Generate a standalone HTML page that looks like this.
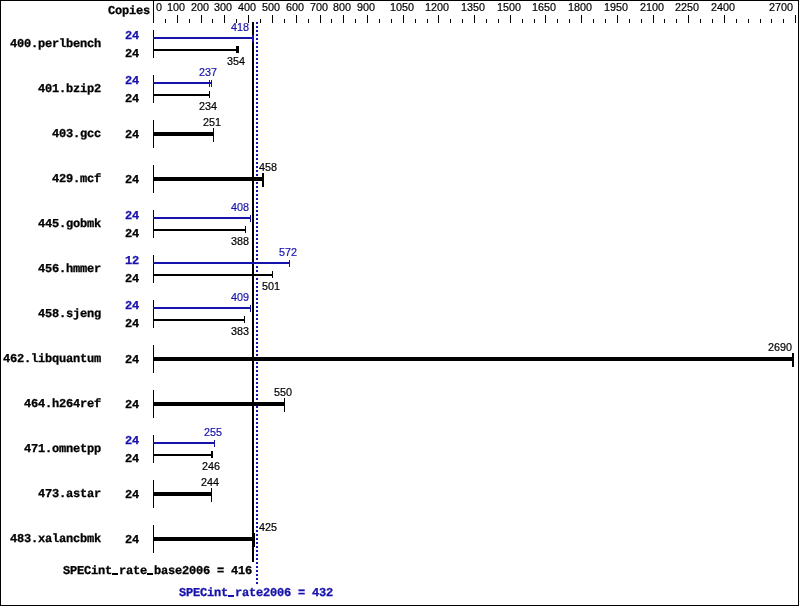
<!DOCTYPE html>
<html><head><meta charset="utf-8"><title>SPECint_rate2006</title>
<style>
html,body{margin:0;padding:0;background:#fff}
#g{position:relative;width:799px;height:606px;overflow:hidden;background:#fff}
#g i{position:absolute;display:block}
#g span{position:absolute;white-space:pre;line-height:13px;height:13px;will-change:transform}
.s{font-family:"Liberation Sans",sans-serif;font-size:10.8px;color:#000;-webkit-text-stroke:0.2px}
#g b{color:transparent;font-weight:inherit}
.m{font-family:"Liberation Mono",monospace;font-weight:bold;font-size:12px;color:#000;letter-spacing:-0.2px;margin-top:-1px;text-rendering:geometricPrecision;-webkit-text-stroke:0.3px}
</style></head><body><div id="g">
<i style="left:0px;top:0px;width:799px;height:1px;background:#000"></i>
<i style="left:0px;top:605px;width:799px;height:1px;background:#000"></i>
<i style="left:0px;top:0px;width:1px;height:606px;background:#000"></i>
<i style="left:798px;top:0px;width:1px;height:606px;background:#000"></i>
<i style="left:153px;top:0px;width:1px;height:23px;background:#000"></i>
<i style="left:165px;top:19px;width:1px;height:4px;background:#000"></i>
<i style="left:177px;top:15px;width:1px;height:8px;background:#000"></i>
<i style="left:189px;top:19px;width:1px;height:4px;background:#000"></i>
<i style="left:201px;top:15px;width:1px;height:8px;background:#000"></i>
<i style="left:212px;top:19px;width:1px;height:4px;background:#000"></i>
<i style="left:224px;top:15px;width:1px;height:8px;background:#000"></i>
<i style="left:236px;top:19px;width:1px;height:4px;background:#000"></i>
<i style="left:248px;top:15px;width:1px;height:8px;background:#000"></i>
<i style="left:260px;top:19px;width:1px;height:4px;background:#000"></i>
<i style="left:272px;top:15px;width:1px;height:8px;background:#000"></i>
<i style="left:284px;top:19px;width:1px;height:4px;background:#000"></i>
<i style="left:296px;top:15px;width:1px;height:8px;background:#000"></i>
<i style="left:308px;top:19px;width:1px;height:4px;background:#000"></i>
<i style="left:320px;top:15px;width:1px;height:8px;background:#000"></i>
<i style="left:331px;top:19px;width:1px;height:4px;background:#000"></i>
<i style="left:343px;top:15px;width:1px;height:8px;background:#000"></i>
<i style="left:355px;top:19px;width:1px;height:4px;background:#000"></i>
<i style="left:367px;top:15px;width:1px;height:8px;background:#000"></i>
<i style="left:379px;top:19px;width:1px;height:4px;background:#000"></i>
<i style="left:391px;top:19px;width:1px;height:4px;background:#000"></i>
<i style="left:403px;top:15px;width:1px;height:8px;background:#000"></i>
<i style="left:415px;top:19px;width:1px;height:4px;background:#000"></i>
<i style="left:427px;top:19px;width:1px;height:4px;background:#000"></i>
<i style="left:438px;top:15px;width:1px;height:8px;background:#000"></i>
<i style="left:450px;top:19px;width:1px;height:4px;background:#000"></i>
<i style="left:462px;top:19px;width:1px;height:4px;background:#000"></i>
<i style="left:474px;top:15px;width:1px;height:8px;background:#000"></i>
<i style="left:486px;top:19px;width:1px;height:4px;background:#000"></i>
<i style="left:498px;top:19px;width:1px;height:4px;background:#000"></i>
<i style="left:510px;top:15px;width:1px;height:8px;background:#000"></i>
<i style="left:522px;top:19px;width:1px;height:4px;background:#000"></i>
<i style="left:534px;top:19px;width:1px;height:4px;background:#000"></i>
<i style="left:545px;top:15px;width:1px;height:8px;background:#000"></i>
<i style="left:557px;top:19px;width:1px;height:4px;background:#000"></i>
<i style="left:569px;top:19px;width:1px;height:4px;background:#000"></i>
<i style="left:581px;top:15px;width:1px;height:8px;background:#000"></i>
<i style="left:593px;top:19px;width:1px;height:4px;background:#000"></i>
<i style="left:605px;top:19px;width:1px;height:4px;background:#000"></i>
<i style="left:617px;top:15px;width:1px;height:8px;background:#000"></i>
<i style="left:629px;top:19px;width:1px;height:4px;background:#000"></i>
<i style="left:641px;top:19px;width:1px;height:4px;background:#000"></i>
<i style="left:653px;top:15px;width:1px;height:8px;background:#000"></i>
<i style="left:664px;top:19px;width:1px;height:4px;background:#000"></i>
<i style="left:676px;top:19px;width:1px;height:4px;background:#000"></i>
<i style="left:688px;top:15px;width:1px;height:8px;background:#000"></i>
<i style="left:700px;top:19px;width:1px;height:4px;background:#000"></i>
<i style="left:712px;top:19px;width:1px;height:4px;background:#000"></i>
<i style="left:724px;top:15px;width:1px;height:8px;background:#000"></i>
<i style="left:736px;top:19px;width:1px;height:4px;background:#000"></i>
<i style="left:748px;top:19px;width:1px;height:4px;background:#000"></i>
<i style="left:760px;top:19px;width:1px;height:4px;background:#000"></i>
<i style="left:771px;top:19px;width:1px;height:4px;background:#000"></i>
<i style="left:783px;top:19px;width:1px;height:4px;background:#000"></i>
<i style="left:795px;top:15px;width:1px;height:8px;background:#000"></i>
<span class="s" style="left:156px;top:1px">0</span>
<span class="s" style="left:167px;top:1px">100</span>
<span class="s" style="left:191px;top:1px">200</span>
<span class="s" style="left:214px;top:1px">300</span>
<span class="s" style="left:238px;top:1px">400</span>
<span class="s" style="left:262px;top:1px">500</span>
<span class="s" style="left:286px;top:1px">600</span>
<span class="s" style="left:310px;top:1px">700</span>
<span class="s" style="left:333px;top:1px">800</span>
<span class="s" style="left:357px;top:1px">900</span>
<span class="s" style="left:390px;top:1px">1050</span>
<span class="s" style="left:425px;top:1px">1200</span>
<span class="s" style="left:461px;top:1px">1350</span>
<span class="s" style="left:497px;top:1px">1500</span>
<span class="s" style="left:532px;top:1px">1650</span>
<span class="s" style="left:568px;top:1px">1800</span>
<span class="s" style="left:604px;top:1px">1950</span>
<span class="s" style="left:640px;top:1px">2100</span>
<span class="s" style="left:675px;top:1px">2250</span>
<span class="s" style="left:711px;top:1px">2400</span>
<span class="s" style="left:769px;top:1px">2700</span>
<i style="left:252px;top:22px;width:2px;height:540px;background:#000"></i>
<i style="left:256px;top:22px;width:2px;height:562px;background:repeating-linear-gradient(to bottom,#1812ac 0,#1812ac 2px,transparent 2px,transparent 4px)"></i>
<span class="m" style="left:108px;top:6px">Copies</span>
<i style="left:153px;top:30px;width:1px;height:28px;background:#000"></i>
<span class="m" style="left:10px;top:39px">400.perlbench</span>
<i style="left:153px;top:37px;width:101px;height:2px;background:#1812ac"></i>
<i style="left:252px;top:35px;width:1px;height:7px;background:#1812ac"></i>
<i style="left:253px;top:35px;width:1px;height:7px;background:#1812ac"></i>
<i style="left:154px;top:49px;width:85px;height:2px;background:#000"></i>
<i style="left:236px;top:46px;width:1px;height:7px;background:#000"></i>
<i style="left:237px;top:46px;width:1px;height:7px;background:#000"></i>
<i style="left:238px;top:46px;width:1px;height:7px;background:#000"></i>
<span class="m" style="color:#1812ac;left:125px;top:31px">24</span>
<span class="m" style="left:125px;top:49px">24</span>
<span class="s" style="color:#1812ac;left:231px;top:21px">418</span>
<span class="s" style="color:#000;left:227px;top:55px">354</span>
<i style="left:153px;top:75px;width:1px;height:28px;background:#000"></i>
<span class="m" style="left:38px;top:84px">401.bzip2</span>
<i style="left:153px;top:82px;width:59px;height:2px;background:#1812ac"></i>
<i style="left:209px;top:80px;width:1px;height:7px;background:#1812ac"></i>
<i style="left:211px;top:80px;width:1px;height:7px;background:#1812ac"></i>
<i style="left:154px;top:94px;width:56px;height:2px;background:#000"></i>
<i style="left:209px;top:91px;width:1px;height:7px;background:#000"></i>
<span class="m" style="color:#1812ac;left:125px;top:76px">24</span>
<span class="m" style="left:125px;top:94px">24</span>
<span class="s" style="color:#1812ac;left:199px;top:66px">237</span>
<span class="s" style="color:#000;left:199px;top:100px">234</span>
<i style="left:153px;top:120px;width:1px;height:28px;background:#000"></i>
<span class="m" style="left:52px;top:129px">403.gcc</span>
<i style="left:154px;top:132px;width:60px;height:4px;background:#000"></i>
<i style="left:213px;top:128px;width:1px;height:14px;background:#000"></i>
<span class="m" style="left:125px;top:130px">24</span>
<span class="s" style="color:#000;left:203px;top:116px">251</span>
<i style="left:153px;top:165px;width:1px;height:28px;background:#000"></i>
<span class="m" style="left:52px;top:174px">429.mcf</span>
<i style="left:154px;top:177px;width:110px;height:4px;background:#000"></i>
<i style="left:262px;top:173px;width:1px;height:14px;background:#000"></i>
<i style="left:263px;top:173px;width:1px;height:14px;background:#000"></i>
<span class="m" style="left:125px;top:175px">24</span>
<span class="s" style="color:#000;left:259px;top:161px">458</span>
<i style="left:153px;top:210px;width:1px;height:28px;background:#000"></i>
<span class="m" style="left:38px;top:219px">445.gobmk</span>
<i style="left:153px;top:217px;width:98px;height:2px;background:#1812ac"></i>
<i style="left:250px;top:215px;width:1px;height:7px;background:#1812ac"></i>
<i style="left:154px;top:229px;width:92px;height:2px;background:#000"></i>
<i style="left:245px;top:226px;width:1px;height:7px;background:#000"></i>
<span class="m" style="color:#1812ac;left:125px;top:211px">24</span>
<span class="m" style="left:125px;top:229px">24</span>
<span class="s" style="color:#1812ac;left:231px;top:201px">408</span>
<span class="s" style="color:#000;left:231px;top:235px">388</span>
<i style="left:153px;top:255px;width:1px;height:28px;background:#000"></i>
<span class="m" style="left:38px;top:264px">456.hmmer</span>
<i style="left:153px;top:262px;width:137px;height:2px;background:#1812ac"></i>
<i style="left:289px;top:260px;width:1px;height:7px;background:#1812ac"></i>
<i style="left:154px;top:274px;width:119px;height:2px;background:#000"></i>
<i style="left:272px;top:271px;width:1px;height:7px;background:#000"></i>
<span class="m" style="color:#1812ac;left:125px;top:256px">12</span>
<span class="m" style="left:125px;top:274px">24</span>
<span class="s" style="color:#1812ac;left:279px;top:246px">572</span>
<span class="s" style="color:#000;left:262px;top:280px">501</span>
<i style="left:153px;top:300px;width:1px;height:28px;background:#000"></i>
<span class="m" style="left:38px;top:309px">458.sjeng</span>
<i style="left:153px;top:307px;width:98px;height:2px;background:#1812ac"></i>
<i style="left:250px;top:305px;width:1px;height:7px;background:#1812ac"></i>
<i style="left:154px;top:319px;width:91px;height:2px;background:#000"></i>
<i style="left:244px;top:316px;width:1px;height:7px;background:#000"></i>
<span class="m" style="color:#1812ac;left:125px;top:301px">24</span>
<span class="m" style="left:125px;top:319px">24</span>
<span class="s" style="color:#1812ac;left:231px;top:291px">409</span>
<span class="s" style="color:#000;left:231px;top:325px">383</span>
<i style="left:153px;top:345px;width:1px;height:28px;background:#000"></i>
<span class="m" style="left:3px;top:354px">462.libquantum</span>
<i style="left:154px;top:357px;width:640px;height:4px;background:#000"></i>
<i style="left:792px;top:353px;width:1px;height:14px;background:#000"></i>
<i style="left:793px;top:353px;width:1px;height:14px;background:#000"></i>
<span class="m" style="left:125px;top:355px">24</span>
<span class="s" style="color:#000;left:768px;top:341px">2690</span>
<i style="left:153px;top:390px;width:1px;height:28px;background:#000"></i>
<span class="m" style="left:24px;top:399px">464.h264ref</span>
<i style="left:154px;top:402px;width:131px;height:4px;background:#000"></i>
<i style="left:284px;top:398px;width:1px;height:14px;background:#000"></i>
<span class="m" style="left:125px;top:400px">24</span>
<span class="s" style="color:#000;left:274px;top:386px">550</span>
<i style="left:153px;top:435px;width:1px;height:28px;background:#000"></i>
<span class="m" style="left:24px;top:444px">471.omnetpp</span>
<i style="left:153px;top:442px;width:62px;height:2px;background:#1812ac"></i>
<i style="left:214px;top:440px;width:1px;height:7px;background:#1812ac"></i>
<i style="left:154px;top:454px;width:59px;height:2px;background:#000"></i>
<i style="left:211px;top:451px;width:1px;height:7px;background:#000"></i>
<i style="left:212px;top:451px;width:1px;height:7px;background:#000"></i>
<span class="m" style="color:#1812ac;left:125px;top:436px">24</span>
<span class="m" style="left:125px;top:454px">24</span>
<span class="s" style="color:#1812ac;left:204px;top:426px">255</span>
<span class="s" style="color:#000;left:202px;top:460px">246</span>
<i style="left:153px;top:480px;width:1px;height:28px;background:#000"></i>
<span class="m" style="left:38px;top:489px">473.astar</span>
<i style="left:154px;top:492px;width:58px;height:4px;background:#000"></i>
<i style="left:211px;top:488px;width:1px;height:14px;background:#000"></i>
<span class="m" style="left:125px;top:490px">24</span>
<span class="s" style="color:#000;left:201px;top:476px">244</span>
<i style="left:153px;top:525px;width:1px;height:28px;background:#000"></i>
<span class="m" style="left:10px;top:534px">483.xalancbmk</span>
<i style="left:154px;top:537px;width:101px;height:4px;background:#000"></i>
<i style="left:254px;top:533px;width:1px;height:14px;background:#000"></i>
<span class="m" style="left:125px;top:535px">24</span>
<span class="s" style="color:#000;left:259px;top:521px">425</span>
<span class="m" style="left:63px;top:566px">SPECint<b>_</b>rate<b>_</b>base2006 = 416</span>
<i style="left:112px;top:573px;width:6px;height:2px;background:#000"></i>
<i style="left:147px;top:573px;width:6px;height:2px;background:#000"></i>
<span class="m" style="color:#1812ac;left:179px;top:588px">SPECint<b>_</b>rate2006 = 432</span>
<i style="left:228px;top:595px;width:6px;height:2px;background:#1812ac"></i>
</div></body></html>
